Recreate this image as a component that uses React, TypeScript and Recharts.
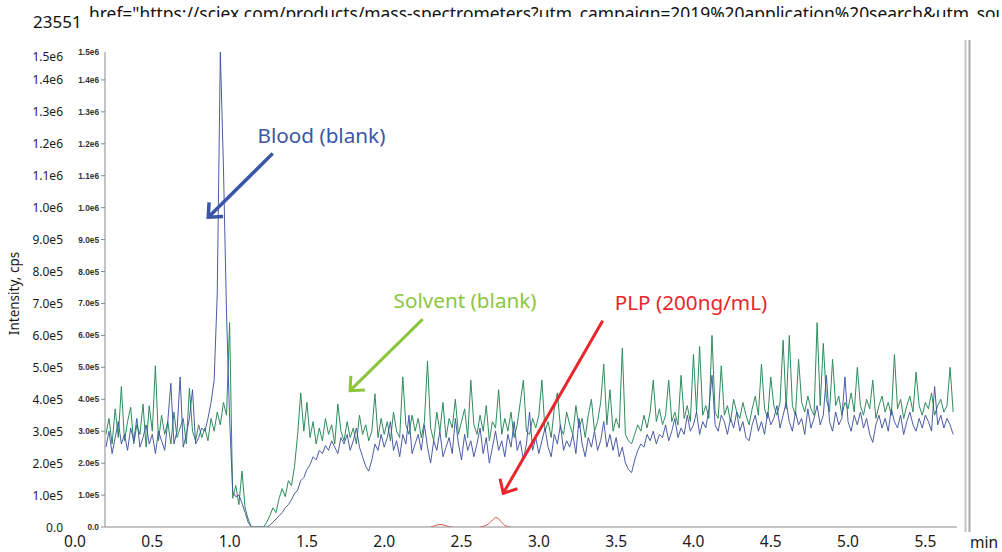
import React from "react";
import { LineChart, Line, XAxis, YAxis, ReferenceLine, ReferenceDot } from "recharts";

// sampling grid of the chromatogram (minutes)
const T0 = 0.2;
const DT = 0.02;

// Intensity in units of 1e5 cps
const bloodBlank = [
  2.5, 3.0, 2.3, 2.8, 3.3, 2.6, 2.9, 2.4, 3.1, 2.7,
  3.4, 2.5, 2.8, 3.2, 2.6, 2.9, 2.3, 3.0, 2.7, 2.4,
  3.3, 4.5, 2.6, 3.0, 4.7, 2.5, 2.9, 3.4, 4.3, 2.6,
  2.8, 3.1, 3.0, 3.4, 3.9, 4.6, 7.3, 14.87, 11.3, 6.7,
  3.4, 1.1, 0.95, 1.0, 0.75, 0.45, 0.15, 0.0, 0.0, 0.0,
  0.0, 0.0, 0.0, 0.05, 0.15, 0.25, 0.35, 0.45, 0.6, 0.7,
  0.85, 1.05, 1.15, 1.45, 1.55, 1.8, 1.95, 2.2, 2.1, 2.4,
  2.3, 2.55, 2.4, 2.7, 2.5, 2.3, 2.8, 2.6, 2.9, 2.4,
  2.7, 3.1, 2.5, 2.2, 1.9, 1.75, 2.1, 2.6, 2.4, 2.9,
  2.5, 2.8, 3.3, 2.4, 2.7, 2.2, 2.9, 2.6, 3.5, 2.3,
  2.6, 2.9, 2.4, 3.2, 2.5, 2.0, 2.7, 2.4, 3.0, 2.2,
  2.5, 2.8, 2.3, 3.4, 2.6, 2.1, 2.9, 2.4, 2.7, 2.2,
  2.6, 3.1, 2.3, 2.8, 2.0, 2.5, 3.0, 2.4, 2.7, 2.2,
  2.9, 2.5, 3.3, 2.4, 2.7, 2.1, 2.6, 3.6, 2.4, 2.8,
  2.3, 2.7, 3.1, 2.5, 2.2, 2.9, 2.6, 3.2, 2.4, 2.7,
  2.5, 2.9, 2.3, 3.4, 2.6, 2.2, 2.8, 2.5, 3.0, 2.4,
  2.7, 3.3, 2.5, 2.9, 2.4, 2.8, 2.2, 2.5, 2.0, 1.8,
  1.7, 2.1, 2.4, 2.6, 2.5, 2.9, 2.7, 3.0, 2.6, 2.9,
  2.8, 3.2, 2.7, 3.0, 3.4, 2.8, 3.1, 2.9, 3.5, 3.0,
  3.2, 3.6, 2.9, 3.3, 3.1, 3.7, 4.75, 3.2, 3.0, 3.5,
  3.3, 2.9, 3.4, 3.1, 3.6, 3.0, 3.3, 2.8, 2.7, 3.2,
  3.5, 3.0, 3.3, 2.9, 3.6, 3.2, 3.4, 3.8, 3.1, 3.5,
  3.9, 3.3, 3.0, 3.6, 3.2, 3.4, 2.9, 3.7, 3.1, 3.4,
  3.8, 3.2, 3.5, 4.75, 3.3, 3.0, 3.6, 3.2, 3.4, 4.7,
  3.3, 3.0, 3.5, 3.2, 3.6, 3.1, 3.4, 2.9, 2.65, 3.2,
  3.5, 3.1, 3.4, 3.0, 3.7, 3.3, 3.1, 3.5, 2.9, 3.3,
  3.6, 3.2, 3.0, 3.4, 3.1, 3.5, 3.3, 3.0, 4.4, 3.2,
  3.5, 3.1, 3.4, 3.2, 2.9,
];

const solventBlank = [
  2.9, 3.4, 2.6, 3.7, 2.8, 4.4, 2.7, 3.3, 3.75, 2.6,
  3.2, 2.9, 3.85, 2.5, 3.8, 3.0, 5.05, 2.7, 3.5, 2.9,
  3.3, 2.6, 3.6, 2.8, 3.1, 3.4, 2.6, 4.35, 3.0, 2.7,
  3.2, 2.8, 3.1, 2.7, 3.4, 3.0, 3.6, 3.2, 3.9, 3.5,
  6.4, 0.9, 1.3, 0.7, 1.75, 0.6, 0.25, 0.0, 0.0, 0.0,
  0.0, 0.0, 0.15, 0.35, 0.6, 0.45, 0.9, 1.2, 0.95, 1.45,
  1.3, 1.9, 2.9, 4.2, 3.0, 3.9, 2.8, 3.3, 2.6, 3.1,
  2.7, 3.4, 2.9, 3.2, 2.6, 3.85, 3.0, 2.7, 3.3, 2.8,
  3.1, 2.6, 3.5, 2.9, 3.2, 2.7, 3.0, 4.17, 2.8, 3.4,
  2.9, 3.3, 2.7, 3.6, 3.0, 2.8, 4.7, 3.2, 2.9, 3.5,
  3.0, 3.4, 2.8, 3.3, 5.2, 3.1, 2.7, 3.6, 3.0, 3.9,
  2.8, 3.4, 3.1, 4.0, 2.9, 3.3, 3.7, 2.8, 4.6, 3.2,
  2.9, 3.5, 3.0, 3.8, 2.7, 3.3, 3.1, 4.3, 2.9, 3.4,
  3.0, 3.6, 2.8, 3.2, 3.9, 4.6, 3.0, 2.9, 3.4, 3.1,
  3.5, 4.6, 3.0, 3.3, 2.8, 3.7, 4.2, 3.1, 2.9, 3.6,
  3.2, 2.9, 3.8, 3.1, 3.4, 2.8, 3.5, 4.0, 3.0, 3.3,
  3.9, 5.1, 3.2, 4.3, 3.0, 3.4, 3.1, 5.6, 2.9, 2.7,
  2.6, 2.9, 3.2, 3.0, 3.5, 3.1, 3.6, 4.6, 3.3, 3.7,
  3.2, 3.5, 4.6, 3.3, 3.6, 3.2, 4.75, 3.4, 3.8, 3.3,
  5.4, 3.6, 5.65, 3.5, 3.8, 3.4, 6.0, 3.6, 3.4, 5.05,
  3.5, 3.8, 3.3, 4.0, 3.6, 3.4, 3.9, 3.5, 3.2, 3.7,
  4.1, 3.5, 5.1, 3.7, 3.4, 4.7, 3.8, 3.5, 3.9, 5.85,
  3.7, 6.0, 3.8, 3.5, 5.25, 3.9, 3.6, 4.1, 3.7, 3.5,
  6.4, 3.8, 5.75, 4.0, 3.6, 5.25, 3.8, 4.1, 3.5, 3.9,
  3.7, 4.2, 3.6, 5.0, 3.8, 3.5, 4.0, 3.7, 4.6, 3.4,
  3.8, 4.1, 3.6, 3.9, 3.5, 5.4, 3.7, 4.0, 3.4, 3.8,
  4.1, 3.6, 4.85, 3.8, 3.5, 3.9, 3.7, 4.2, 3.5, 3.8,
  4.0, 3.6, 3.8, 5.0, 3.6,
];

const plpTimes = [2.30, 2.32, 2.34, 2.36, 2.38, 2.40, 2.42, 2.44, 2.53, 2.62, 2.64, 2.66, 2.68, 2.70, 2.72, 2.74, 2.76, 2.78, 2.80, 2.82];
const plpValues = [0.0, 0.03, 0.06, 0.08, 0.07, 0.04, 0.01, 0.0, null, 0.0, 0.02, 0.05, 0.12, 0.22, 0.3, 0.26, 0.14, 0.05, 0.01, 0.0];

const yTicks = [0, 1, 2, 3, 4, 5, 6, 7, 8, 9, 10, 11, 12, 13, 14, 15];
const yTickLabels = ["0.0", "1.0e5", "2.0e5", "3.0e5", "4.0e5", "5.0e5", "6.0e5", "7.0e5", "8.0e5", "9.0e5", "1.0e6", "1.1e6", "1.2e6", "1.3e6", "1.4e6", "1.5e6"];
const xTicks = [0, 0.5, 1, 1.5, 2, 2.5, 3, 3.5, 4, 4.5, 5, 5.5];
const xTickLabels = ["0.0", "0.5", "1.0", "1.5", "2.0", "2.5", "3.0", "3.5", "4.0", "4.5", "5.0", "5.5"];
const innerXTicks = Array.from({ length: 73 }, (_, k) => k / 12);

const HREF_TEXT = 'href="https://sciex.com/products/mass-spectrometers?utm_campaign=2019%20application%20search&utm_source';

const annotations = [
  { label: "Blood (blank)", color: "#3a55a6", text: [1.594, 12.28], from: [1.279, 11.7], to: [0.862, 9.7], width: 3.5 },
  { label: "Solvent (blank)", color: "#8cc63e", text: [2.523, 7.11], from: [2.249, 6.51], to: [1.779, 4.27], width: 3 },
  { label: "PLP (200ng/mL)", color: "#e8262b", text: [3.984, 7.05], from: [3.413, 6.46], to: [2.77, 1.055], width: 3 },
];

const times = bloodBlank.map((_, i) => Math.round((T0 + i * DT) * 1000) / 1000);
const rows = times.map((t, i) => ({ t, blood: bloodBlank[i], solvent: solventBlank[i] }));
const plpRows = plpTimes.map((t, i) => ({ t, plp: plpValues[i] }));

const FONT = "'Noto Sans', 'DejaVu Sans', sans-serif";

const EmptyTick = () => <g />;

const YTick = (props: any) => {
  const { x, y, payload } = props;
  const v = payload.value;
  const label = yTickLabels[v];
  const top = v === 15;
  return (
    <g>
      <text x={x - 2} y={y + (top ? 8 : 0)} dy={4.5} textAnchor="end" fontSize={12} fontFamily={FONT} fill="#1a1a1a">
        {label}
      </text>
      <text x={x + 34} y={y + (top ? 4 : 0)} dy={3} textAnchor="end" fontSize={8.3} fontWeight="bold" fontFamily="'Liberation Sans', Arial, sans-serif" fill="#333">
        {label}
      </text>
      {!top && <line x1={x + 36} x2={x + 40} y1={y} y2={y} stroke="#8a8a8a" />}
    </g>
  );
};

const MinLabel = (props: any) => {
  const vb = props.viewBox || { x: 75, y: 527, width: 889, height: 25 };
  return (
    <text x={vb.x + vb.width + 6} y={vb.y + 21} fontSize={15.5} fontFamily={FONT} fill="#1a1a1a">
      min
    </text>
  );
};

const YTitle = (props: any) => {
  const vb = props.viewBox || { x: 0, y: 48, width: 75, height: 479 };
  const cx = vb.x + 14;
  const cy = vb.y + vb.height / 2 + 6;
  return (
    <text x={cx} y={cy} transform={`rotate(-90 ${cx} ${cy})`} textAnchor="middle" dominantBaseline="central" fontSize={13.5} fontFamily={FONT} fill="#1a1a1a">
      Intensity, cps
    </text>
  );
};

const makeArrow = (color: string, width: number) => (props: any) => {
  const { x1, y1, x2, y2 } = props;
  const ang = Math.atan2(y2 - y1, x2 - x1);
  const L = 11;
  const W = 10;
  const bx = x2 - L * Math.cos(ang);
  const by = y2 - L * Math.sin(ang);
  const p1 = `${bx + W * Math.sin(ang)},${by - W * Math.cos(ang)}`;
  const p2 = `${bx - W * Math.sin(ang)},${by + W * Math.cos(ang)}`;
  return (
    <g>
      <line x1={x1} y1={y1} x2={x2 - 1.5 * Math.cos(ang)} y2={y2 - 1.5 * Math.sin(ang)} stroke={color} strokeWidth={width} />
      <polyline points={`${p1} ${x2},${y2} ${p2}`} fill="none" stroke={color} strokeWidth={width} strokeLinejoin="miter" />
    </g>
  );
};

const makeText = (label: string, color: string) => (props: any) => (
  <text x={props.cx} y={props.cy} textAnchor="middle" dominantBaseline="central" fontSize={20.7} fontFamily={FONT} fill={color}>
    {label}
  </text>
);

export default function App() {
  return (
    <div style={{ position: "absolute", left: 0, top: 0, width: 1002, height: 552, background: "#fff", overflow: "hidden", fontFamily: FONT }}>
      <LineChart width={1002} height={552} data={rows} margin={{ top: 48, right: 38, bottom: 0, left: 0 }}>
        <XAxis
          xAxisId="inner"
          type="number"
          dataKey="t"
          domain={[-0.2113, 6.0493]}
          allowDataOverflow
          ticks={innerXTicks}
          interval={0}
          tick={EmptyTick}
          tickLine={{ stroke: "#999" }}
          tickSize={4}
          axisLine={false}
          height={0}
        />
        <XAxis
          xAxisId="main"
          type="number"
          dataKey="t"
          domain={[0, 5.75]}
          allowDataOverflow
          ticks={xTicks}
          interval={0}
          tickFormatter={(v: number) => xTickLabels[xTicks.indexOf(v)]}
          tick={{ fontSize: 15.5, fill: "#1a1a1a", fontFamily: FONT }}
          tickSize={0}
          tickMargin={9}
          axisLine={false}
          tickLine={false}
          height={25}
          label={{ content: MinLabel }}
        />
        <YAxis
          type="number"
          domain={[0, 15]}
          allowDataOverflow
          ticks={yTicks}
          interval={0}
          tick={YTick}
          tickSize={0}
          tickMargin={10}
          axisLine={false}
          tickLine={false}
          width={75}
          label={{ content: YTitle }}
        />
        <Line xAxisId="main" dataKey="solvent" type="linear" stroke="#2e8c5c" strokeWidth={1} dot={false} isAnimationActive={false} />
        <Line xAxisId="main" dataKey="blood" type="linear" stroke="#3c4f9e" strokeOpacity={0.92} strokeWidth={1} dot={false} isAnimationActive={false} />
        <Line xAxisId="main" data={plpRows} dataKey="plp" type="linear" stroke="#e05555" strokeWidth={1} dot={false} isAnimationActive={false} />
        <ReferenceLine xAxisId="inner" segment={[{ x: 0, y: 0 }, { x: 6, y: 0 }]} stroke="#8a8a8a" strokeWidth={1} />
        <ReferenceLine xAxisId="inner" segment={[{ x: 0, y: 0 }, { x: 0, y: 14.87 }]} stroke="#8a8a8a" strokeWidth={1} />
        {annotations.map((a) => (
          <ReferenceLine
            key={`arrow-${a.label}`}
            xAxisId="main"
            segment={[{ x: a.from[0], y: a.from[1] }, { x: a.to[0], y: a.to[1] }]}
            shape={makeArrow(a.color, a.width)}
          />
        ))}
        {annotations.map((a) => (
          <ReferenceDot key={`text-${a.label}`} xAxisId="main" x={a.text[0]} y={a.text[1]} r={1} shape={makeText(a.label, a.color)} />
        ))}
      </LineChart>
      <svg width={1002} height={552} style={{ position: "absolute", left: 0, top: 0, pointerEvents: "none" }}>
        <defs>
          <clipPath id="hrefClip">
            <rect x={0} y={0} width={1002} height={17} />
          </clipPath>
        </defs>
        <text x={33} y={28} fontSize={17} fontFamily={FONT} fill="#111">
          23551
        </text>
        <text x={89} y={20} fontSize={17.4} fontFamily={FONT} fill="#111" clipPath="url(#hrefClip)">
          {HREF_TEXT}
        </text>
        <line x1={965.5} y1={40} x2={965.5} y2={532} stroke="#c4c4c4" strokeWidth={2} />
        <line x1={969.5} y1={40} x2={969.5} y2={532} stroke="#a8a8a8" strokeWidth={2} />
      </svg>
    </div>
  );
}
